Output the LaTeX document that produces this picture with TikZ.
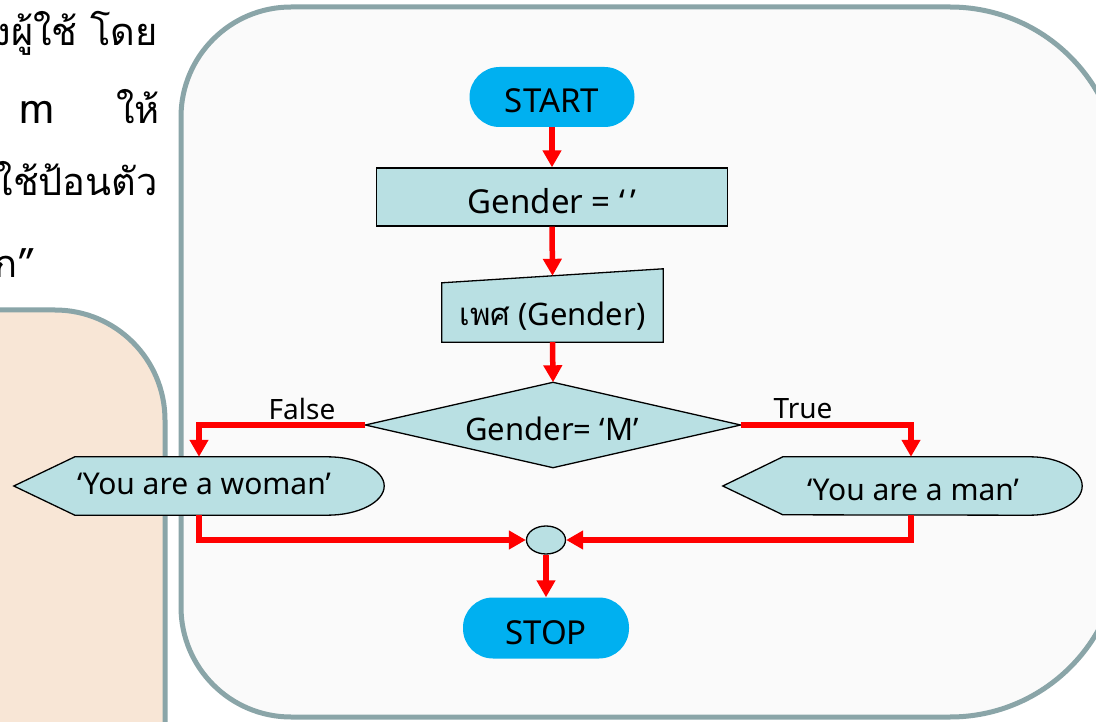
\documentclass[tikz,border=0pt]{standalone}
\usepackage{fontspec}
\setmainfont{Noto Sans}
\newfontfamily\thaifont[Script=Thai]{Loma}
\usetikzlibrary{arrows.meta,calc,shapes.geometric}
\definecolor{panelline}{HTML}{8AA5A8}
\definecolor{panelfill}{HTML}{FAFAFA}
\definecolor{peach}{HTML}{F8E6D6}
\definecolor{boxfill}{HTML}{B9E0E3}
\definecolor{termfill}{HTML}{00B0F0}
\definecolor{flowred}{HTML}{FF0000}
\tikzset{
  panel/.style={draw=panelline, line width=5pt},
  terminal/.style={rectangle, fill=termfill, rounded corners=30pt, minimum height=60pt,
    font=\fontsize{33}{36}\selectfont, text height=32pt, text depth=0pt},
  procbox/.style={rectangle, draw=black, fill=boxfill, line width=1.3pt,
    font=\fontsize{33}{36}\selectfont, text height=33pt, text depth=0pt},
  holder/.style={rectangle, inner sep=0pt},
  outline/.style={draw=black, fill=boxfill, line width=1.3pt},
  flow/.style={draw=flowred, line width=5.5pt, -{Triangle[length=17pt,width=18pt]}},
  branch/.style={font=\fontsize{28}{30}\selectfont},
  thailine/.style={font=\thaifont\fontsize{38}{44}\selectfont, inner sep=0pt}
}
\begin{document}
\begin{tikzpicture}[x=1pt,y=-1pt]
\useasboundingbox (0,0) rectangle (1096,722);
\fill[white] (0,0) rectangle (1096,722);

% description text of the exercise
\node[thailine, anchor=base east] (t1) at (158,46) {งผู้ใช้ โดย};
\node[thailine, anchor=base west, font=\thaifont\fontsize{42}{44}\selectfont] (t2a) at (19,124) {m};
\node[thailine, anchor=base east] (t2b) at (160,124) {ให้};
\node[thailine, anchor=base east] (t3) at (158,196) {ใช้ป้อนตัว};
\node[thailine, anchor=base east] (t4) at (36,278) {ก”};

% background panels, kept inside the page
\begin{scope}
\clip (0,0) rectangle (1096,722);
\draw[panel, fill=peach, rounded corners=110pt] (-250,310) rectangle (165,900);
\draw[panel, fill=panelfill]
  (181,117) .. controls (181,56.25) and (230.25,7) .. (291,7)
  -- (950,7) .. controls (1043.9,7) and (1120,83.1) .. (1120,177)
  -- (1120,547) .. controls (1120,640.9) and (1043.9,717) .. (950,717)
  -- (291,717) .. controls (230.25,717) and (181,667.75) .. (181,607)
  -- cycle;
\end{scope}

% flowchart nodes
\node[terminal, minimum width=165pt] (start) at (552,97) {START};
\node[procbox, minimum width=351pt, minimum height=58pt] (g) at (552,197) {Gender = ‘\,’};

\node[holder, minimum width=221pt, minimum height=59pt] (inp) at (552.5,312.5) {};
\draw[outline] (inp.south west) -- (inp.north west) -- ($(inp.north east)+(0,-14)$) -- (inp.south east) -- cycle;
\node[font=\fontsize{31}{34}\selectfont] (inptext) at (552.5,316) {{\thaifont เพศ} (Gender)};

\node[holder, minimum width=375pt, minimum height=85pt] (dec) at (553,425) {};
\draw[outline] (dec.north) -- (dec.east) -- (dec.south) -- (dec.west) -- cycle;
\node[font=\fontsize{31}{33}\selectfont] (dectext) at (552,429) {Gender= ‘M’};

\node[holder, minimum width=370pt, minimum height=58pt] (woman) at (199,486) {};
\draw[outline] (woman.west) -- ($(woman.north west)+(61,0)$) -- ($(woman.north east)+(-57,0)$)
  .. controls ($(woman.north east)+(-25.5,0)$) and ($(woman.east)+(0,-16)$) .. (woman.east)
  .. controls ($(woman.east)+(0,16)$) and ($(woman.south east)+(-25.5,0)$) .. ($(woman.south east)+(-57,0)$)
  -- ($(woman.south west)+(61,0)$) -- cycle;
\node[font=\fontsize{30}{32}\selectfont] (womantext) at (204,484) {‘You are a woman’};

\node[holder, minimum width=342pt, minimum height=58pt] (man) at (911,486) {};
\draw[outline] ($(man.west)+(-17,0)$) -- ($(man.north west)+(43,0)$) -- ($(man.north east)+(-52,0)$)
  .. controls ($(man.north east)+(-23.3,0)$) and ($(man.east)+(0,-16)$) .. (man.east)
  .. controls ($(man.east)+(0,16)$) and ($(man.south east)+(-23.3,0)$) .. ($(man.south east)+(-52,0)$)
  -- ($(man.north west)+(43,58)$) -- cycle;
\node[font=\fontsize{30}{32}\selectfont] (mantext) at (913,490) {‘You are a man’};

\node[ellipse, draw=black, fill=boxfill, line width=1.3pt, minimum width=39pt, minimum height=28pt, inner sep=0pt] (conn) at (546,540) {};
\node[terminal, minimum width=166pt, minimum height=61pt] (stop) at (546,628) {STOP};

% connectors
\draw[flow] (start.south) -- (g.north);
\draw[flow] (g.south) -- ($(inp.north)+(0,-7)$);
\draw[flow] (inp.south) -- (dec.north);
\draw[flow] (dec.west) -| (woman.north);
\draw[flow] (dec.east) -| (man.north);
\draw[flow] (woman.south) |- (conn.west);
\draw[flow] (man.south) |- (conn.east);
\draw[flow] (conn.south) -- (stop.north);

% branch labels
\node[branch] (flabel) at (302,409) {False};
\node[branch] (tlabel) at (803,409) {True};
\end{tikzpicture}
\end{document}
